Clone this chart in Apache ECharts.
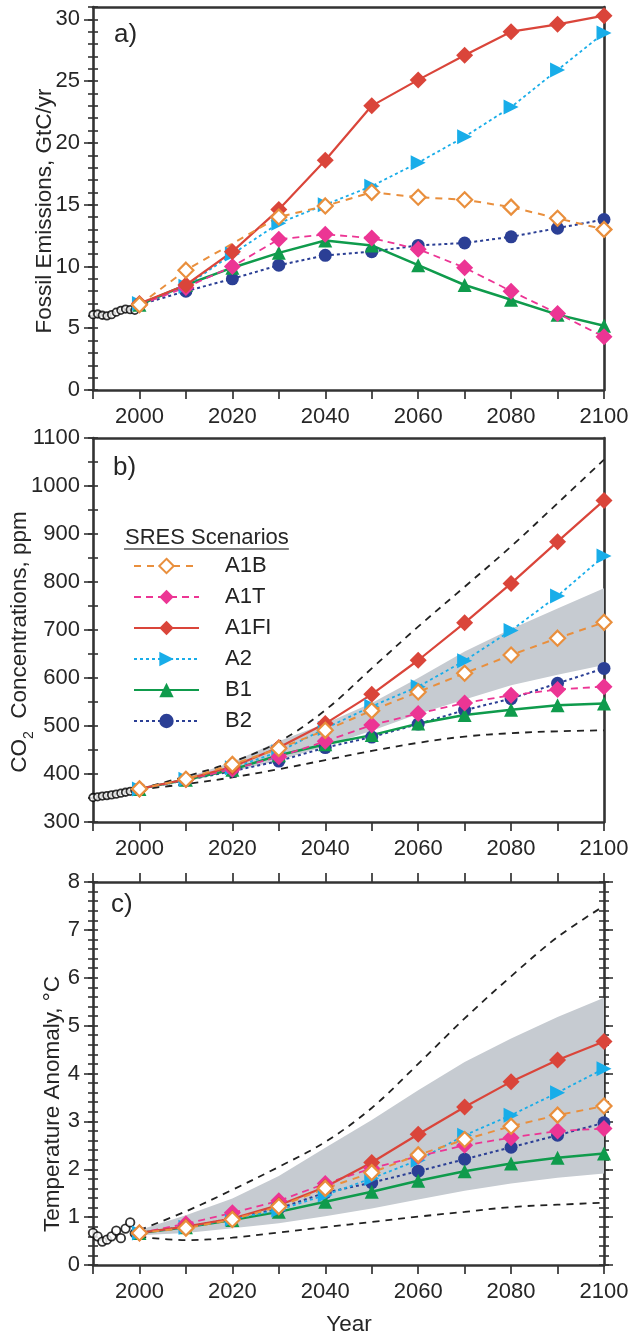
<!DOCTYPE html>
<html>
<head>
<meta charset="utf-8">
<script src="https://cdn.jsdelivr.net/npm/echarts@6/dist/echarts.min.js"></script>
<style>
html, body { margin: 0; padding: 0; background: #fff; }
#chart { width: 635px; height: 1336px; }
</style>
</head>
<body>
<div id="chart"></div>
<script>
// ---- data -------------------------------------------------------------
const years = [2000, 2010, 2020, 2030, 2040, 2050, 2060, 2070, 2080, 2090, 2100];
const histYears = [1990, 1991, 1992, 1993, 1994, 1995, 1996, 1997, 1998, 1999];
const scenarioNames = ['A1B', 'A1T', 'A1FI', 'A2', 'B1', 'B2'];

// a) fossil emissions, GtC/yr
const emisHist = [6.10, 6.15, 6.05, 6.00, 6.10, 6.30, 6.45, 6.55, 6.50, 6.45];
const emisA1B  = [6.9, 9.7, null, 14.0, 14.9, 16.0, 15.6, 15.4, 14.8, 13.9, 13.0];
const emisA1T  = [6.9, 8.3, 10.0, 12.2, 12.6, 12.3, 11.4, 9.9, 8.0, 6.2, 4.3];
const emisA1FI = [7.0, 8.5, 11.2, 14.6, 18.6, 23.0, 25.1, 27.1, 29.0, 29.6, 30.3];
const emisA2   = [7.0, 8.4, 11.0, 13.5, 15.0, 16.5, 18.4, 20.5, 22.9, 25.9, 28.9];
const emisB1   = [6.9, 8.5, 9.9, 11.1, 12.1, 11.7, 10.1, 8.5, 7.3, 6.1, 5.2];
const emisB2   = [6.9, 8.0, 9.0, 10.1, 10.9, 11.2, 11.7, 11.9, 12.4, 13.1, 13.8];

// b) CO2 concentrations, ppm
const co2Hist = [351, 352.5, 354, 355, 356.5, 358, 360, 362, 364, 366];
const co2A1B  = [369, 389, 420, 453, 491, 532, 571, 610, 648, 683, 716];
const co2A1T  = [369, 388, 410, 436, 468, 502, 526, 548, 564, 576, 582];
const co2A1FI = [369, 389, 415, 455, 505, 566, 637, 715, 797, 884, 970];
const co2A2   = [369, 389, 413, 446, 495, 541, 582, 636, 699, 771, 854];
const co2B1   = [369, 388, 409, 439, 462, 481, 505, 523, 534, 543, 547];
const co2B2   = [369, 387, 406, 427, 455, 477, 504, 533, 557, 589, 620];
const co2BandLow  = [369, 386, 405, 428, 458, 490, 525, 555, 585, 607, 627];
const co2BandHigh = [369, 392, 425, 468, 505, 548, 600, 655, 702, 745, 787];
const co2EnvLow   = [368, 379, 393, 410, 429, 448, 465, 478, 485, 489, 491];
const co2EnvHigh  = [369, 395, 425, 467, 533, 620, 707, 790, 874, 964, 1055];

// c) temperature anomaly, °C
const tempHist = [0.67, 0.60, 0.49, 0.53, 0.60, 0.72, 0.56, 0.76, 0.89, 0.66];
const tempA1B  = [0.67, 0.77, 0.95, 1.22, 1.60, 1.93, 2.30, 2.62, 2.90, 3.13, 3.32];
const tempA1T  = [0.67, 0.86, 1.09, 1.34, 1.70, 2.02, 2.27, 2.50, 2.66, 2.80, 2.85];
const tempA1FI = [0.67, 0.80, 0.97, 1.25, 1.63, 2.14, 2.73, 3.30, 3.83, 4.28, 4.67];
const tempA2   = [0.67, 0.79, 0.96, 1.15, 1.46, 1.81, 2.19, 2.71, 3.13, 3.60, 4.10];
const tempB1   = [0.67, 0.79, 0.94, 1.11, 1.32, 1.53, 1.76, 1.96, 2.12, 2.24, 2.33];
const tempB2   = [0.67, 0.80, 0.97, 1.18, 1.51, 1.72, 1.96, 2.21, 2.46, 2.71, 2.97];
const tempBandLow  = [0.62, 0.67, 0.77, 0.87, 1.02, 1.18, 1.37, 1.55, 1.70, 1.82, 1.91];
const tempBandHigh = [0.73, 1.04, 1.39, 1.86, 2.45, 3.03, 3.65, 4.24, 4.73, 5.18, 5.58];
const tempEnvLow   = [0.59, 0.52, 0.57, 0.68, 0.79, 0.90, 1.01, 1.11, 1.21, 1.26, 1.30];
const tempEnvHigh  = [0.73, 1.12, 1.57, 2.05, 2.57, 3.28, 4.20, 5.15, 6.03, 6.85, 7.50];

// ---- styling ----------------------------------------------------------
const FONT = '"Liberation Sans", Arial, Helvetica, sans-serif';
const AX = '#333';
const TX = '#262626';
const BAND = '#c6cbd1';
const TICK_FONT = 22;

const scenarioStyle = {
  A1B:  { color: '#e98f3d', dash: [7, 6], width: 2,   symbol: 'diamond',  size: 15, hollow: true },
  A1T:  { color: '#ec3594', dash: [7, 5], width: 1.8, symbol: 'diamond',  size: 17 },
  A1FI: { color: '#da453a', dash: 'solid', width: 2.2, symbol: 'diamond', size: 17 },
  A2:   { color: '#18ade9', dash: [3, 3], width: 1.8, symbol: 'triangle', size: 15, rotate: -90 },
  B1:   { color: '#0f9b4c', dash: 'solid', width: 2.5, symbol: 'triangle', size: 14 },
  B2:   { color: '#2b3f95', dash: [3, 3], width: 2,   symbol: 'circle',   size: 13 }
};
// bottom-to-top drawing order
const drawOrder = ['B2', 'B1', 'A2', 'A1T', 'A1FI', 'A1B'];

const pairs = (xs, ys) => xs.map((x, i) => [x, ys[i]]);

// ---- axes -------------------------------------------------------------
const grids = [
  { left: 93, top: 7,   width: 511, height: 383 },
  { left: 93, top: 438, width: 511, height: 384 },
  { left: 93, top: 882, width: 511, height: 383 }
].map(g => Object.assign({ containLabel: false, outerBoundsMode: 'none' }, g));

const xAxes = [];
const yAxes = [];
const mainY = [];

function addXAxes(g, topTicks) {
  const common = {
    type: 'value', gridIndex: g, min: 1990, max: 2100, interval: 10,
    splitLine: { show: false }, silent: true,
    axisLine: { show: true, onZero: false, lineStyle: { color: AX, width: 2.6 } }
  };
  xAxes.push(Object.assign({}, common, {
    position: 'bottom',
    axisTick: { show: true, length: 9, lineStyle: { color: AX, width: 1.7 } },
    axisLabel: {
      show: true, margin: 16, fontSize: TICK_FONT, fontFamily: FONT, color: TX,
      formatter: v => (v >= 2000 && v % 20 === 0) ? String(v) : ''
    }
  }));
  xAxes.push(Object.assign({}, common, {
    position: 'top',
    axisTick: { show: topTicks, length: 9, lineStyle: { color: AX, width: 1.7 } },
    axisLabel: { show: false }
  }));
}

function addYAxes(g, cfg) {
  const base = {
    type: 'value', gridIndex: g, min: cfg.min, max: cfg.max, silent: true,
    splitLine: { show: false }, axisLabel: { show: false },
    axisLine: { show: false, onZero: false }, axisTick: { show: false }
  };
  const tick = (len, inside) => ({ show: true, length: len, inside: inside, lineStyle: { color: AX, width: 1.6 } });
  const sides = cfg.rightTicks ? ['left', 'right'] : ['left'];
  sides.forEach(side => {
    if (side === 'left') mainY[g] = yAxes.length;
    const major = Object.assign({}, base, {
      position: side, interval: cfg.major,
      axisLine: { show: true, onZero: false, lineStyle: { color: AX, width: 2.6 } },
      axisTick: Object.assign(tick(9, false), cfg.majorValues ? { customValues: cfg.majorValues } : {})
    });
    if (side === 'left') {
      major.axisLabel = Object.assign({
        show: true, margin: 13, fontSize: TICK_FONT, fontFamily: FONT, color: TX, formatter: cfg.fmt
      }, cfg.majorValues ? { customValues: cfg.majorValues } : {});
    }
    yAxes.push(major);
    yAxes.push(Object.assign({}, base, { position: side, interval: cfg.minor, axisTick: tick(5, false) }));
    yAxes.push(Object.assign({}, base, { position: side, interval: cfg.minor, axisTick: tick(5, true) }));
  });
  if (!cfg.rightTicks) {
    // plain frame line on the right
    yAxes.push(Object.assign({}, base, {
      position: 'right', interval: cfg.major,
      axisLine: { show: true, onZero: false, lineStyle: { color: AX, width: 2.6 } }
    }));
  }
}

addXAxes(0, false);
addXAxes(1, false);
addXAxes(2, true);

addYAxes(0, { min: 0, max: 31, major: 5, minor: 1, majorValues: [0, 5, 10, 15, 20, 25, 30],
  fmt: v => (v % 5 === 0 ? String(v) : '') });
addYAxes(1, { min: 300, max: 1100, major: 100, minor: 50,
  fmt: v => (v % 100 === 0 ? String(v) : '') });
addYAxes(2, { min: 0, max: 8, major: 1, minor: 0.2, rightTicks: true,
  fmt: v => (Number.isInteger(v) ? String(v) : '') });

// ---- series -----------------------------------------------------------
const series = [];
const onGrid = g => ({ xAxisIndex: 2 * g, yAxisIndex: mainY[g] });

// shaded range between two curves, drawn as one polygon in data coordinates
function addBand(g, low, high) {
  series.push(Object.assign({
    type: 'custom', coordinateSystem: 'cartesian2d', silent: true, clip: true,
    data: [[years[0], low[0]]],
    renderItem: (params, api) => {
      const top = years.map((x, i) => api.coord([x, high[i]]));
      const bottom = years.map((x, i) => api.coord([x, low[i]])).reverse();
      return {
        type: 'polygon',
        shape: { points: top.concat(bottom) },
        style: { fill: BAND, stroke: null }
      };
    }
  }, onGrid(g)));
}

function addEnvelope(g, values) {
  series.push(Object.assign({
    type: 'line', data: pairs(years, values), symbol: 'none', smooth: 0.35, silent: true,
    lineStyle: { color: '#222', width: 1.8, type: [7, 6] }
  }, onGrid(g)));
}

function addHistory(g, values, size) {
  series.push(Object.assign({
    type: 'scatter', data: pairs(histYears, values), symbol: 'circle', symbolSize: size, silent: true,
    itemStyle: { color: '#fff', borderColor: '#000', borderWidth: 1.8 }
  }, onGrid(g)));
}

function addScenarios(g, table) {
  drawOrder.forEach(name => {
    const s = scenarioStyle[name];
    series.push(Object.assign({
      type: 'line', name: name, data: pairs(years, table[name]),
      symbol: s.symbol, symbolSize: s.size, symbolRotate: s.rotate || 0,
      showSymbol: true, connectNulls: true, silent: true,
      lineStyle: { color: s.color, width: s.width, type: s.dash },
      itemStyle: s.hollow
        ? { color: '#fff', borderColor: s.color, borderWidth: 2.2 }
        : { color: s.color, borderWidth: 0 },
      emphasis: { disabled: true }
    }, onGrid(g)));
  });
}

addHistory(0, emisHist, 7.5);
addScenarios(0, { A1B: emisA1B, A1T: emisA1T, A1FI: emisA1FI, A2: emisA2, B1: emisB1, B2: emisB2 });

addBand(1, co2BandLow, co2BandHigh);
addEnvelope(1, co2EnvLow);
addEnvelope(1, co2EnvHigh);
addHistory(1, co2Hist, 7.5);
addScenarios(1, { A1B: co2A1B, A1T: co2A1T, A1FI: co2A1FI, A2: co2A2, B1: co2B1, B2: co2B2 });

addBand(2, tempBandLow, tempBandHigh);
addEnvelope(2, tempEnvLow);
addEnvelope(2, tempEnvHigh);
addHistory(2, tempHist, 8.5);
addScenarios(2, { A1B: tempA1B, A1T: tempA1T, A1FI: tempA1FI, A2: tempA2, B1: tempB1, B2: tempB2 });

// ---- titles and annotations --------------------------------------------
const measureCtx = document.createElement('canvas').getContext('2d');
function textWidth(text, size) {
  measureCtx.font = size + 'px ' + FONT;
  return measureCtx.measureText(text).width;
}

function txt(text, x, y, size, opts) {
  opts = opts || {};
  const align = opts.align || 'left';
  const vAlign = opts.vAlign || 'middle';
  return {
    type: 'text', x: x, y: y, rotation: opts.rotation || 0, silent: true,
    style: {
      text: text, font: size + 'px ' + FONT, fill: opts.fill || TX,
      align: align, verticalAlign: vAlign, textAlign: align, textVerticalAlign: vAlign
    }
  };
}

const R = Math.PI / 2;
const TITLE_FONT = 22.5;
const graphics = [];
graphics.push(txt('Fossil Emissions, GtC/yr', 45, 211, TITLE_FONT, { rotation: R, align: 'center' }));

// CO2 with a subscript 2, laid out along the rotated baseline
const wCO = textWidth('CO', TITLE_FONT);
const w2 = textWidth('2', 14);
const wRest = textWidth('  Concentrations, ppm', TITLE_FONT);
const co2Start = 642 + (wCO + w2 + wRest) / 2;
graphics.push(txt('CO', 20, co2Start, TITLE_FONT, { rotation: R }));
graphics.push(txt('2', 29, co2Start - wCO, 14, { rotation: R }));
graphics.push(txt('  Concentrations, ppm', 20, co2Start - wCO - w2, TITLE_FONT, { rotation: R }));

graphics.push(txt('Temperature Anomaly, °C', 53, 1104, TITLE_FONT, { rotation: R, align: 'center' }));
graphics.push(txt('Year', 349, 1325, TITLE_FONT, { align: 'center' }));

graphics.push(txt('a)', 114, 35, 26));
graphics.push(txt('b)', 113, 468, 26));
graphics.push(txt('c)', 111, 905, 26));

const legendTitle = 'SRES Scenarios';
graphics.push(txt(legendTitle, 125, 538, 22));
graphics.push({
  type: 'line', silent: true,
  shape: { x1: 124, y1: 549, x2: 125 + textWidth(legendTitle, 22), y2: 549 },
  style: { stroke: '#555', lineWidth: 1.5 }
});

// ---- chart ------------------------------------------------------------
const chart = echarts.init(document.getElementById('chart'), null, { renderer: 'canvas' });
chart.setOption({
  animation: false,
  backgroundColor: '#fff',
  textStyle: { fontFamily: FONT },
  grid: grids,
  xAxis: xAxes,
  yAxis: yAxes,
  legend: {
    data: scenarioNames, orient: 'vertical', left: 133, top: 555, padding: 0,
    itemWidth: 65, itemHeight: 18, itemGap: 9, selectedMode: false,
    textStyle: { fontSize: 22, fontFamily: FONT, color: '#222', padding: [0, 0, 0, 21], lineHeight: 18 }
  },
  series: series,
  graphic: graphics
});
</script>
</body>
</html>
